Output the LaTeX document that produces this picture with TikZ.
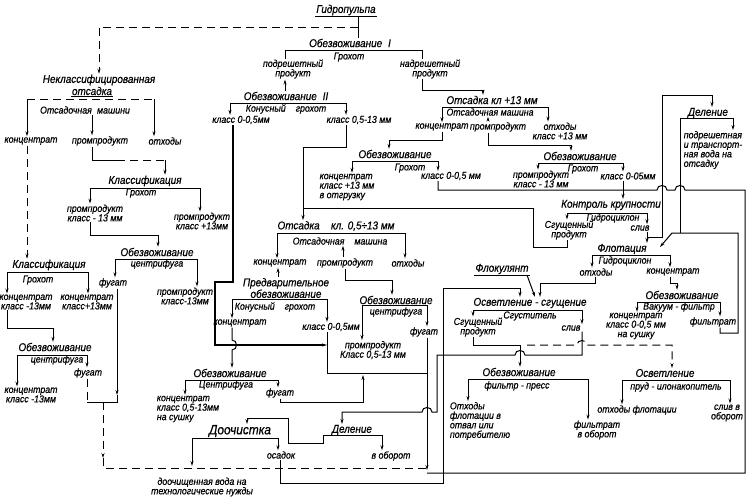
\documentclass[tikz,border=0pt]{standalone}
\usepackage{fontspec}
\setmainfont{Liberation Sans}[FakeStretch=0.88,FakeBold=0.5]
\usetikzlibrary{arrows.meta}
\newcommand\lbfont{\fontsize{10}{9.5}\selectfont\itshape}
\newcommand\hdfont{\fontsize{11.3}{11.5}\selectfont\itshape}
\tikzset{
  lb/.style={font=\lbfont,inner sep=0.5pt,align=center},
  hd/.style={font=\hdfont,inner sep=0.5pt,align=center},
  ul/.style={append after command={(\tikzlastnode.south west) edge[-] (\tikzlastnode.south east)}},
  wt/.style={dash pattern=on 8pt off 5pt}
}
\begin{document}
\begin{tikzpicture}[x=1pt,y=-1pt,line width=1pt,>={Stealth[length=5pt,width=3pt]}]
\useasboundingbox (0,0) rectangle (750,501);

\node[hd,ul] (gidro) at (346,10) {Гидропульпа};
\node[hd] (obezv1) at (350,43) {Обезвоживание\; I};
\node[lb] (grokhot1) at (349,57) {Грохот};
\node[lb] (podresh) at (293,69) {подрешетный\\продукт};
\node[lb] (nadresh) at (430,69) {надрешетный\\продукт};
\node[hd] (obezv2) at (286,96) {Обезвоживание\; II};
\node[lb] (konus2) at (286,109) {Конусный\quad грохот};
\node[lb] (kl005a) at (241,120) {класс 0-0,5мм};
\node[lb] (kl0513a) at (359,120) {класс 0,5-13 мм};

\node[hd] (otsadka1) at (492,100) {Отсадка кл +13 мм};
\node[lb] (mashina1) at (490,112) {Отсадочная машина};
\node[lb] (konc1) at (442,127) {концентрат};
\node[lb] (promp1) at (498,127) {промпродукт};
\node[lb] (otkh1) at (560,131) {отходы\\класс +13 мм};
\node[hd] (obezv3) at (395,154) {Обезвоживание};
\node[lb] (grokhot3) at (410,168) {Грохот};
\node[lb,align=left] (konc13) at (347,187) {концентрат\\класс +13 мм\\в отгрузку};
\node[lb] (kl005b) at (451,176) {класс 0-0,5 мм};
\node[hd] (obezv4) at (580,156) {Обезвоживание};
\node[lb] (grokhot4) at (583,169) {Грохот};
\node[lb] (promp13) at (541,179) {промпродукт\\класс - 13 мм};
\node[lb] (kl005c) at (628,176) {класс 0-05мм};

\node[hd] (delenie1) at (708,113) {Деление};
\node[lb,align=left] (podrv) at (713,150) {подрешетная\\и транспорт-\\ная вода на\\отсадку};
\node[hd] (kontrol) at (611,205) {Контроль крупности};
\node[lb] (gidrots1) at (613,218) {Гидроциклон};
\node[lb] (sgush1) at (569,230) {Сгущенный\\продукт};
\node[lb] (sliv1) at (640,228) {слив};
\node[hd] (flot) at (622,249) {Флотация};
\node[lb] (gidrots2) at (625,261) {Гидроциклон};
\node[lb] (otkh2) at (596,272) {отходы};
\node[lb] (konc2) at (673,272) {концентрат};
\node[hd,ul] (flok) at (502,269) {Флокулянт};
\node[hd] (obezv5) at (682,295) {Обезвоживание};
\node[lb] (vakuum) at (679,307) {Вакуум - фильтр};
\node[lb] (konc005) at (636,326) {концентрат\\класс 0-0,5 мм\\на сушку};
\node[lb] (filtr1) at (713,322) {фильтрат};

\node[hd] (osvsg) at (530,303) {Осветление - сгущение};
\node[lb] (sgust) at (530,316) {Сгуститель};
\node[lb] (sgush2) at (478,327) {Сгущенный\\продукт};
\node[lb] (sliv2) at (571,328) {слив};
\node[hd] (obezv6) at (519,372) {Обезвоживание};
\node[lb] (press) at (517,386) {фильтр - пресс};
\node[lb,align=left] (otkhfl) at (480,421) {Отходы\\флотации в\\отвал или\\потребителю};
\node[lb] (filtr2) at (597,430) {фильтрат\\в оборот};
\node[hd] (osvetl) at (665,373) {Осветление};
\node[lb] (prud) at (676,387) {пруд - илонакопитель};
\node[lb] (otkhfl2) at (637,410) {отходы флотации};
\node[lb] (sliv3) at (727,413) {слив в\\оборот};

\node[hd] (neklass) at (99,80) {Неклассифицированная};
\node[hd,ul] (otsadka0) at (92,91) {отсадка};
\node[lb] (mashina0) at (85,110) {Отсадочная\; машини};
\node[lb] (konc0) at (31,141) {концентрат};
\node[lb] (promp0) at (100,141) {промпродукт};
\node[lb] (otkh0) at (165,141) {отходы};
\node[hd] (klass1) at (145,181) {Классификация};
\node[lb] (grokhot5) at (141,193) {Грохот};
\node[lb] (promp13m) at (95,213) {промпродукт\\класс - 13 мм};
\node[lb] (promp13p) at (202,221) {промпродукт\\класс +13мм};
\node[hd] (obezv7) at (157,252) {Обезвоживание};
\node[lb] (tsentr7) at (157,264) {центрифуга};
\node[lb] (fugat7) at (113,283) {фугат};
\node[lb] (promp13c) at (185,296) {промпродукт\\класс-13мм};
\node[hd] (klass2) at (49,265) {Классификация};
\node[lb] (grokhot6) at (38,280) {Грохот};
\node[lb] (konc13m) at (26,302) {концентрат\\класс -13мм};
\node[lb] (konc13p) at (87,302) {концентрат\\класс+13мм};
\node[hd] (obezv8) at (55,347) {Обезвоживание};
\node[lb] (tsentr8) at (57,360) {центрифуга};
\node[lb] (konc13m2) at (31,395) {концентрат\\класс -13мм};
\node[lb] (fugat8) at (88,373) {фугат};

\node[hd] (otsadka2) at (336,226) {Отсадка\quad кл. 0,5÷13 мм};
\node[lb] (mashina2) at (340,241) {Отсадочная\quad машина};
\node[lb] (konc3) at (280,263) {концентрат};
\node[lb] (promp3) at (345,263) {промпродукт};
\node[lb] (otkh3) at (408,263) {отходы};
\node[hd] (predv) at (286,288) {Предварительное\\обезвоживание};
\node[lb] (konus4) at (275,307) {Конусный\quad грохот};
\node[lb] (konc4) at (240,323) {концентрат};
\node[lb] (kl005d) at (331,327) {класс 0-0,5мм};
\node[hd] (obezv9) at (396,300) {Обезвоживание};
\node[lb] (tsentr9) at (396,312) {центрифуга};
\node[lb] (fugat9) at (424,332) {фугат};
\node[lb] (promp0513) at (373,350) {промпродукт\\Класс 0,5-13 мм};
\node[hd] (obezv10) at (230,373) {Обезвоживание};
\node[lb] (tsentr10) at (226,385) {Центрифуга};
\node[lb,align=left] (konc0513) at (188,409) {концентрат\\класс 0,5-13мм\\на сушку};
\node[lb] (fugat10) at (280,393) {фугат};
\node[font=\fontsize{13.5}{13}\selectfont\itshape,inner sep=0.5pt] (doochist) at (240,431) {Доочистка};
\node[lb] (osadok) at (281,455) {осадок};
\node[hd] (delenie2) at (352,430) {Деление};
\node[lb] (voborot) at (391,456) {в оборот};
\node[lb] (dvoda) at (202,487) {доочищенная вода на\\технологические нужды};

\draw (gidro.south -| 358,0) -- (obezv1.north -| 358,0);
\draw[wt,->] (358,27) -- (99,27) -- (neklass.north -| 99,0);
\draw (podresh.north -| 285,0) -- (285,50) -- (422,50) -- (nadresh.north -| 422,0);
\draw[->] (obezv2.north -| 285,0) -- (podresh.south -| 285,0);
\draw[<->] (kl005a.north -| 230,0) -- (230,103) -- (346,103) -- (kl0513a.north -| 346,0);
\draw[line width=1.4pt,->] (kl005a.south -| 233,0) -- (233,282) -- (215,282) -- (215,345) -- (327,345);
\draw[->] (kl0513a.south -| 346,0) -- (346,147) -- (303,147) -- (otsadka2.north -| 303,0);
\draw[->] (nadresh.south -| 422,0) -- (422,90) -- (483,90) -- (otsadka1.north -| 483,0);
\draw[<->] (konc1.north -| 442,0) -- (442,107) -- (548,107) -- (otkh1.north -| 548,0);
\draw[->] (promp1.north -| 488,0) -- (mashina1.south -| 488,0);
\draw[->] (konc1.south -| 442,0) -- (442,140) -- (389,140) -- (obezv3.north -| 389,0);
\draw[->] (promp1.south -| 488,0) -- (488,145) -- (571,145) -- (obezv4.north -| 571,0);
\draw[<->] (konc13.north -| 352,0) -- (352,161) -- (438,161) -- (kl005b.north -| 438,0);
\draw (kl005b.south -| 438,0) -- (438,190) -- (657,190) .. controls (657,184) and (667,184) .. (667,190) -- (675,190) .. controls (675,184) and (685,184) .. (685,190) -- (745,190) -- (745,473) -- (427,473);
\draw[<->] (promp13.north -| 538,0) -- (538,163) -- (623,163) -- (kl005c.north -| 623,0);
\draw[->] (kl005c.south -| 623,0) -- (kontrol.north -| 623,0);
\draw[->] (648,237) -- (662,237) -- (662,95) -- (712,95) -- (delenie1.north -| 712,0);
\draw[->] (680,233) -- (680,118) -- (733,118) -- (podrv.north -| 733,0);
\draw[<->] (sgush1.north -| 567,0) -- (567,213) -- (647,213) -- (sliv1.north -| 647,0);
\draw[->] (sliv1.south -| 647,0) -- (flot.north -| 647,0);
\draw (sgush1.south -| 567,0) -- (567,247) -- (533,247) -- (533,208) -- (303,208);
\draw[<->] (otkh2.north -| 592,0) -- (592,255) -- (670,255) -- (konc2.north -| 670,0);
\draw[->] (otkh2.south -| 595,0) -- (595,283) -- (540,283) -- (osvsg.north -| 540,0);
\draw[->] (flok.south -| 527,0) -- (osvsg.north -| 535,0);
\draw[->] (konc2.south -| 670,0) -- (670,283) -- (677,283) -- (obezv5.north -| 677,0);
\draw[<->] (konc005.north -| 637,0) -- (637,302) -- (720,302) -- (filtr1.north -| 720,0);
\draw[->] (filtr1.south -| 720,0) -- (720,333) -- (738,333) -- (738,233) -- (672,233) -- (660,247);

\draw[<->] (sgush2.north -| 473,0) -- (473,310) -- (582,310) -- (sliv2.north -| 582,0);
\draw[->] (sgush2.south -| 473,0) -- (473,345) -- (520,345) -- (obezv6.north -| 520,0);
\draw[->] (sliv2.south -| 582,0) -- (582,355) -- (525,355) .. controls (525,349) and (515,349) .. (515,355) -- (437,355) -- (437,412) -- (432,412) .. controls (432,406) and (422,406) .. (422,412) -- (342,412) -- (delenie2.north -| 342,0);
\draw[wt,->] (527,345) -- (577,345) .. controls (577,339) and (587,339) .. (587,345) -- (672,345) -- (osvetl.north -| 672,0);
\draw[->] (osadok.south -| 280,0) -- (280,483) -- (443,483) -- (443,288) -- (520,288) -- (osvsg.north -| 520,0);
\draw[->] (fugat9.south -| 427,0) -- (427,470);
\draw[wt,->] (103,402) -- (103,458);
\draw[wt] (103,458) -- (103,468) -- (427,468);
\draw[<->] (otkhfl.north -| 468,0) -- (468,379) -- (588,379) -- (filtr2.north -| 588,0);
\draw[<->] (otkhfl2.north -| 622,0) -- (622,380) -- (730,380) -- (sliv3.north -| 730,0);

\draw[->] (323,435) -- (323,443) -- (288,443) -- (288,418) -- (247,418) -- (doochist.north -| 247,0);
\draw[->] (323,435) -- (382,435) -- (voborot.north -| 382,0);
\draw[<->] (192,466) -- (192,438) -- (278,438) -- (osadok.north -| 278,0);
\draw[<->] (konc0513.north -| 185,0) -- (185,380) -- (278,380) -- (fugat10.north -| 278,0);
\draw[->] (fugat10.south -| 280,0) -- (280,402) -- (363,402) -- (363,375);
\draw[->] (konc4.south -| 232,0) -- (232,340) .. controls (238,340) and (238,350) .. (232,350) -- (obezv10.north -| 232,0);
\draw[<->] (konc4.north -| 232,0) -- (232,299) -- (327,299) -- (kl005d.north -| 327,0);
\draw (kl005d.south -| 327,0) -- (327,373) -- (427,373);
\draw[<->] (promp0513.north -| 362,0) -- (362,305) -- (427,305) -- (fugat9.north -| 427,0);
\draw[<->] (konc3.north -| 277,0) -- (277,233) -- (405,233) -- (otkh3.north -| 405,0);
\draw[->] (promp3.north -| 343,0) -- (mashina2.south -| 343,0);
\draw[->] (predv.north -| 278,0) -- (konc3.south -| 278,0);
\draw[->] (promp3.south -| 345,0) -- (345,280) -- (392,280) -- (obezv9.north -| 392,0);

\draw[wt] (27,99) -- (154,99);
\draw[->] (27,99) -- (konc0.north -| 27,0);
\draw[->] (154,99) -- (otkh0.north -| 154,0);
\draw[->] (mashina0.south -| 92,0) -- (promp0.north -| 92,0);
\draw[wt,->] (konc0.south -| 27,0) -- (klass2.north -| 27,0);
\draw (promp0.south -| 92,0) -- (92,160) -- (117,160);
\draw[wt] (117,160) -- (165,160);
\draw[->] (165,160) -- (klass1.north -| 165,0);
\draw[<->] (promp13m.north -| 90,0) -- (90,188) -- (200,188) -- (promp13p.north -| 200,0);
\draw[->] (promp13m.south -| 90,0) -- (90,235) -- (158,235) -- (obezv7.north -| 158,0);
\draw[<->] (fugat7.north -| 115,0) -- (115,259) -- (197,259) -- (promp13c.north -| 197,0);
\draw[->] (fugat7.south -| 117,0) -- (117,395);
\draw (117,395) -- (117,402) -- (87,402);
\draw[<->] (konc13m.north -| 7,0) -- (7,272) -- (88,272) -- (konc13p.north -| 88,0);
\draw[->] (konc13m.south -| 7,0) -- (7,328) -- (53,328) -- (obezv8.north -| 53,0);
\draw[<->] (konc13m2.north -| 17,0) -- (17,355) -- (87,355) -- (fugat8.north -| 87,0);
\draw[wt] (fugat8.south -| 87,0) -- (87,402);
\end{tikzpicture}
\end{document}
